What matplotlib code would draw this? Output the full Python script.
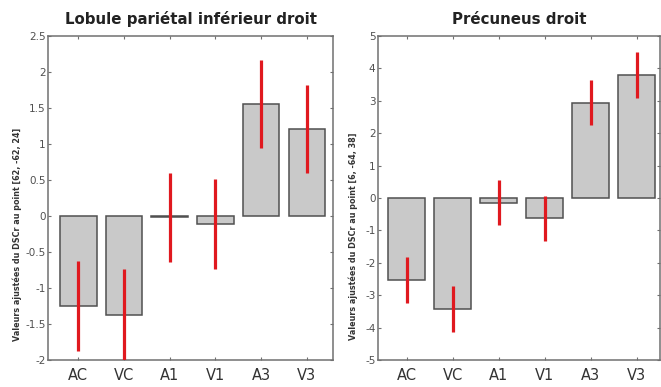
import matplotlib.pyplot as plt
import numpy as np

plt.rcParams['axes.unicode_minus'] = False

conditions = ["AC", "VC", "A1", "V1", "A3", "V3"]

# Lobule parietal inferieur droit
lpi_vals = [-1.25, -1.37, -0.02, -0.11, 1.555, 1.21]
lpi_err = [0.62, 0.63, 0.62, 0.62, 0.615, 0.615]
lpi_yticks = [-2, -1.5, -1, -0.5, 0, 0.5, 1, 1.5, 2, 2.5]

# Precuneus droit
prec_vals = [-2.53, -3.43, -0.14, -0.63, 2.94, 3.79]
prec_err = [0.70, 0.70, 0.70, 0.70, 0.70, 0.71]
prec_yticks = [-5, -4, -3, -2, -1, 0, 1, 2, 3, 4, 5]

W, H = 661, 387
fig = plt.figure(figsize=(W / 100, H / 100), dpi=100)

bar_fc = '#c9c9c9'
bar_ec = '#505050'
spine_c = '#707070'
err_c = '#e0191f'
tick_c = '#505050'


def fmt(v):
    return ('%g' % v)


def draw_panel(rect, vals, err, yticks, ylim, xlim, title):
    ax = fig.add_axes(rect)
    x = np.arange(1, len(conditions) + 1)
    ax.bar(x, vals, width=0.8, color=bar_fc, edgecolor=bar_ec, linewidth=1.1, zorder=2)
    ax.vlines(x, np.array(vals) - np.array(err), np.array(vals) + np.array(err),
              colors=err_c, linewidth=2.3, zorder=3)
    ax.set_xlim(*xlim)
    ax.set_ylim(*ylim)
    ax.set_xticks(x)
    ax.set_xticklabels(conditions, fontsize=10.5, color='#333333')
    ax.set_yticks(yticks)
    ax.set_yticklabels([fmt(v) for v in yticks], fontsize=7.5, color=tick_c)
    ax.tick_params(axis='x', direction='in', top=True, length=2.5, width=0.8,
                   color=spine_c, pad=6)
    ax.tick_params(axis='y', direction='in', right=True, length=2.5, width=0.8,
                   color=spine_c, pad=2)
    for s in ax.spines.values():
        s.set_color(spine_c)
        s.set_linewidth(1.1)
    ax.set_title(title, fontsize=10.8, fontweight='bold', color='#222222', pad=8.5)
    return ax


draw_panel([48.3 / W, 27 / H, 285 / W, 324 / H], lpi_vals, lpi_err, lpi_yticks,
           (-2, 2.5), (0.344, 6.58), "Lobule pariétal inférieur droit")
draw_panel([378.3 / W, 27 / H, 281.7 / W, 324 / H], prec_vals, prec_err, prec_yticks,
           (-5, 5), (0.38, 6.51), "Précuneus droit")

fig.text(17 / W, 1 - 234 / H, "Valeurs ajustées du DSCr au point [62, -62, 24]",
         rotation=90, fontsize=5.8, fontweight='bold', color='#333333',
         ha='center', va='center')
fig.text(353 / W, 1 - 236 / H, "Valeurs ajustées du DSCr au point [6, -64, 38]",
         rotation=90, fontsize=5.8, fontweight='bold', color='#333333',
         ha='center', va='center')

fig.savefig('out.png', dpi=100)
